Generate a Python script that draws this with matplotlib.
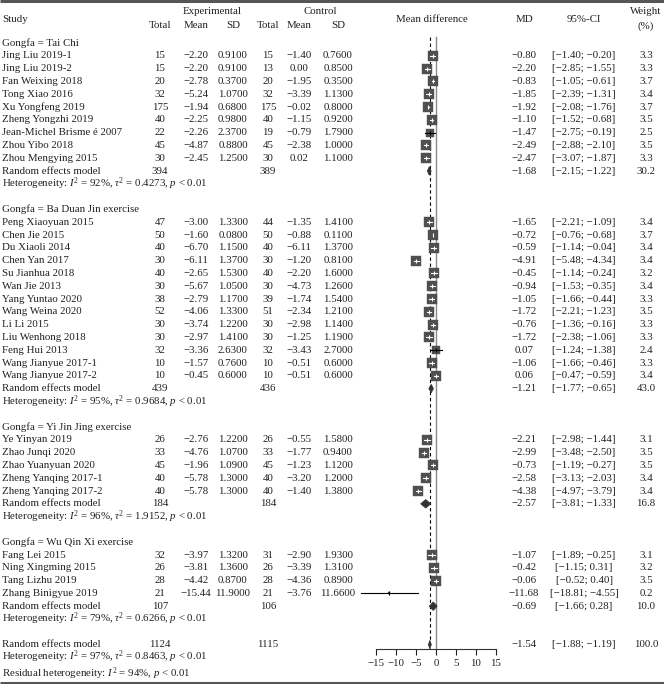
import matplotlib
matplotlib.use('Agg')
import matplotlib.pyplot as plt
import numpy as np

plt.rcParams['font.family'] = ['Liberation Serif', 'DejaVu Serif']
plt.rcParams['mathtext.fontset'] = 'custom'
plt.rcParams['mathtext.rm'] = 'Liberation Serif'
plt.rcParams['mathtext.it'] = 'Liberation Serif:italic'
plt.rcParams['axes.unicode_minus'] = True

# ---------------- data ----------------
group_labels = ["Gongfa = Tai Chi", "Gongfa = Ba Duan Jin exercise",
                "Gongfa = Yi Jin Jing exercise", "Gongfa = Wu Qin Xi exercise"]
group_sizes = [9, 13, 5, 4]

study_names = [
    "Jing Liu 2019-1", "Jing Liu 2019-2", "Fan Weixing 2018", "Tong Xiao 2016",
    "Xu Yongfeng 2019", "Zheng Yongzhi 2019", "Jean-Michel Brisme é 2007",
    "Zhou Yibo 2018", "Zhou Mengying 2015",
    "Peng Xiaoyuan 2015", "Chen Jie 2015", "Du Xiaoli 2014", "Chen Yan 2017",
    "Su Jianhua 2018", "Wan Jie 2013", "Yang Yuntao 2020", "Wang Weina 2020",
    "Li Li 2015", "Liu Wenhong 2018", "Feng Hui 2013", "Wang Jianyue 2017-1",
    "Wang Jianyue 2017-2",
    "Ye Yinyan 2019", "Zhao Junqi 2020", "Zhao Yuanyuan 2020",
    "Zheng Yanqing 2017-1", "Zheng Yanqing 2017-2",
    "Fang Lei 2015", "Ning Xingming 2015", "Tang Lizhu 2019", "Zhang Binigyue 2019",
]
exp_total = [15, 15, 20, 32, 175, 40, 22, 45, 30,
             47, 50, 40, 30, 40, 30, 38, 52, 30, 30, 32, 10, 10,
             26, 33, 45, 40, 40,
             32, 26, 28, 21]
exp_mean = [-2.20, -2.20, -2.78, -5.24, -1.94, -2.25, -2.26, -4.87, -2.45,
            -3.00, -1.60, -6.70, -6.11, -2.65, -5.67, -2.79, -4.06, -3.74, -2.97, -3.36, -1.57, -0.45,
            -2.76, -4.76, -1.96, -5.78, -5.78,
            -3.97, -3.81, -4.42, -15.44]
exp_sd = [0.91, 0.91, 0.37, 1.07, 0.68, 0.98, 2.37, 0.88, 1.25,
          1.33, 0.08, 1.15, 1.37, 1.53, 1.05, 1.17, 1.33, 1.22, 1.41, 2.63, 0.76, 0.60,
          1.22, 1.07, 1.09, 1.30, 1.30,
          1.32, 1.36, 0.87, 11.90]
ctl_total = [15, 13, 20, 32, 175, 40, 19, 45, 30,
             44, 50, 40, 30, 40, 30, 39, 51, 30, 30, 32, 10, 10,
             26, 33, 45, 40, 40,
             31, 26, 28, 21]
ctl_mean = [-1.40, 0.00, -1.95, -3.39, -0.02, -1.15, -0.79, -2.38, 0.02,
            -1.35, -0.88, -6.11, -1.20, -2.20, -4.73, -1.74, -2.34, -2.98, -1.25, -3.43, -0.51, -0.51,
            -0.55, -1.77, -1.23, -3.20, -1.40,
            -2.90, -3.39, -4.36, -3.76]
ctl_sd = [0.76, 0.85, 0.35, 1.13, 0.80, 0.92, 1.79, 1.00, 1.10,
          1.41, 0.11, 1.37, 0.81, 1.60, 1.26, 1.54, 1.21, 1.14, 1.19, 2.70, 0.60, 0.60,
          1.58, 0.94, 1.12, 1.20, 1.38,
          1.93, 1.31, 0.89, 11.66]
md = [-0.80, -2.20, -0.83, -1.85, -1.92, -1.10, -1.47, -2.49, -2.47,
      -1.65, -0.72, -0.59, -4.91, -0.45, -0.94, -1.05, -1.72, -0.76, -1.72, 0.07, -1.06, 0.06,
      -2.21, -2.99, -0.73, -2.58, -4.38,
      -1.07, -0.42, -0.06, -11.68]
# CI limits as drawn in the plot
ci_lo = [-1.40, -2.85, -1.05, -2.39, -2.08, -1.52, -2.75, -2.88, -3.07,
         -2.21, -0.76, -1.14, -5.48, -1.14, -1.53, -1.66, -2.21, -1.36, -2.38, -1.24, -1.66, -0.47,
         -2.98, -3.48, -1.19, -3.13, -4.97,
         -1.89, -1.15, -0.52, -18.81]
ci_hi = [-0.20, -1.55, -0.61, -1.31, -1.76, -0.68, -0.19, -2.10, -1.87,
         -1.09, -0.68, -0.04, -4.34, 0.24, -0.35, -0.44, -1.23, -0.16, -1.06, 1.38, -0.46, 0.59,
         -1.44, -2.50, -0.27, -2.03, -3.79,
         -0.25, 0.31, 0.40, -4.55]
# CI text as printed in the table
ci_text = ["[−1.40; −0.20]", "[−2.85; −1.55]", "[−1.05; −0.61]", "[−2.39; −1.31]",
           "[−2.08; −1.76]", "[−1.52; −0.68]", "[−2.75; −0.19]", "[−2.88; −2.10]",
           "[−3.07; −1.87]",
           "[−2.21; −1.09]", "[−0.76; −0.68]", "[−1.14; −0.04]", "[−5.48; −4.34]",
           "[−1.14; −0.24]", "[−1.53; −0.35]", "[−1.66; −0.44]", "[−2.21; −1.23]",
           "[−1.36; −0.16]", "[−2.38; −1.06]", "[−1.24; −1.38]", "[−1.66; −0.46]",
           "[−0.47; −0.59]",
           "[−2.98; −1.44]", "[−3.48; −2.50]", "[−1.19; −0.27]", "[−3.13; −2.03]",
           "[−4.97; −3.79]",
           "[−1.89; −0.25]", "[−1.15; 0.31]", "[−0.52; 0.40]", "[−18.81; −4.55]"]
weight = [3.3, 3.3, 3.7, 3.4, 3.7, 3.5, 2.5, 3.5, 3.3,
          3.4, 3.7, 3.4, 3.4, 3.2, 3.4, 3.3, 3.5, 3.3, 3.3, 2.4, 3.3, 3.4,
          3.1, 3.5, 3.5, 3.4, 3.4,
          3.1, 3.2, 3.5, 0.2]

sub_exp_total = [394, 439, 184, 107]
sub_ctl_total = [389, 436, 184, 106]
sub_md = [-1.68, -1.21, -2.57, -0.69]
sub_lo = [-2.15, -1.77, -3.81, -1.66]
sub_hi = [-1.22, -0.65, -1.33, 0.28]
sub_weight = [30.2, 43.0, 16.8, 10.0]
sub_i2 = [92, 95, 96, 79]
sub_tau2 = ["0.4273", "0.9684", "1.9152", "0.6266"]

all_exp_total = 1124
all_ctl_total = 1115
all_md = -1.54
all_lo = -1.88
all_hi = -1.19
all_weight = 100.0
all_i2 = 97
all_tau2 = "0.8463"
resid_i2 = 94

x_ticks = [-15, -10, -5, 0, 5, 10, 15]

# ---------------- layout ----------------
W, H = 664, 684
FS = 7.8
TXT = '#231f20'
SQ = '#4f4f4f'
DIA = '#333333'
Y0, PITCH = 43.0, 12.8
AX_Y = 649
X_COLS = dict(exp_total=160, exp_mean=196, exp_sd=233, ctl_total=268,
              ctl_mean=299, ctl_sd=338, md=524, ci=584, weight=646)


def row_y(r):
    return Y0 + r * PITCH


def f(v, d=2):
    return f"{v:.{d}f}".replace('-', '\u2212')


def ci_fmt(lo, hi):
    return f"[{f(lo)}; {f(hi)}]"


fig = plt.figure(figsize=(W / 100, H / 100), dpi=100)
ax = fig.add_axes([0, 0, 1, 1])
ax.set_xlim(0, W)
ax.set_ylim(H, 0)
ax.axis('off')

fx = fig.add_axes([376 / W, 0, 120 / W, 1])
fx.set_xlim(-15, 15)
fx.set_ylim(H, 0)
fx.patch.set_alpha(0)
for s in ['top', 'left', 'right']:
    fx.spines[s].set_visible(False)
fx.spines['bottom'].set_position(('data', AX_Y))
fx.spines['bottom'].set_bounds(-15, 15)
fx.spines['bottom'].set_linewidth(0.8)
fx.spines['bottom'].set_color('#333333')
fx.set_yticks([])
fx.set_xticks(x_ticks)
fx.tick_params(axis='x', direction='out', length=4, width=0.8, labelsize=FS,
               pad=3.5, colors=TXT)


def put(x, y, s, ha='center', **kw):
    ax.text(x, y, s, ha=ha, va='center', fontsize=FS, color=TXT, **kw)


# header
ax.plot([0, W], [1.2, 1.2], color='#555555', lw=2.2, solid_capstyle='butt')
ax.plot([0, W], [682.5, 682.5], color='#555555', lw=2.2, solid_capstyle='butt')
put(2, 20, "Study", ha='left')
put(212, 12, "Experimental")
put(320, 12, "Control")
for key, lab in [('exp_total', 'Total'), ('exp_mean', 'Mean'), ('exp_sd', 'SD'),
                 ('ctl_total', 'Total'), ('ctl_mean', 'Mean'), ('ctl_sd', 'SD')]:
    put(X_COLS[key], 26, lab)
put(432, 19, "Mean difference")
put(X_COLS['md'], 19, "MD")
put(X_COLS['ci'], 19, "95%-CI")
put(X_COLS['weight'], 12, "Weight")
put(X_COLS['weight'], 26, "(%)")


def diamond(y, m, lo, hi, h=4.2):
    fx.fill([lo, m, hi, m], [y, y - h, y, y + h], color=DIA, lw=0.6,
            edgecolor=DIA, clip_on=False, zorder=5)


PX_PER_UNIT = 120 / 30.0
r = 0
i = 0
for g, lab in enumerate(group_labels):
    put(2, row_y(r), lab, ha='left')
    r += 1
    for _ in range(group_sizes[g]):
        y = row_y(r)
        put(2, y, study_names[i], ha='left')
        put(X_COLS['exp_total'], y, str(exp_total[i]))
        put(X_COLS['exp_mean'], y, f(exp_mean[i]))
        put(X_COLS['exp_sd'], y, f(exp_sd[i], 4))
        put(X_COLS['ctl_total'], y, str(ctl_total[i]))
        put(X_COLS['ctl_mean'], y, f(ctl_mean[i]))
        put(X_COLS['ctl_sd'], y, f(ctl_sd[i], 4))
        put(X_COLS['md'], y, f(md[i]))
        put(X_COLS['ci'], y, ci_text[i])
        put(X_COLS['weight'], y, f"{weight[i]:.1f}")
        # square
        side_px = 10.0 * np.sqrt(weight[i] / 3.4)
        fx.plot([md[i]], [y], marker='s', ms=side_px * 0.72, color=SQ,
                mec=SQ, mew=0.3, clip_on=False, zorder=3)
        half_units = side_px / 2 / PX_PER_UNIT
        wide = (md[i] - ci_lo[i] > half_units) or (ci_hi[i] - md[i] > half_units)
        col = 'black' if wide else 'white'
        fx.plot([ci_lo[i], ci_hi[i]], [y, y], color=col, lw=0.8,
                clip_on=False, zorder=4)
        fx.plot([md[i]], [y], marker='|', ms=3, color=col, mew=0.8,
                clip_on=False, zorder=4)
        r += 1
        i += 1
    y = row_y(r)
    put(2, y, "Random effects model", ha='left')
    put(X_COLS['exp_total'], y, str(sub_exp_total[g]))
    put(X_COLS['ctl_total'], y, str(sub_ctl_total[g]))
    put(X_COLS['md'], y, f(sub_md[g]))
    put(X_COLS['ci'], y, ci_fmt(sub_lo[g], sub_hi[g]))
    put(X_COLS['weight'], y, f"{sub_weight[g]:.1f}")
    diamond(y, sub_md[g], sub_lo[g], sub_hi[g])
    r += 1
    put(2, row_y(r),
        f"Heterogeneity: $I^2$ = {sub_i2[g]}%, $\\tau^2$ = {sub_tau2[g]}, $p$ < 0.01",
        ha='left')
    r += 2

y = row_y(r)
put(2, y, "Random effects model", ha='left')
put(X_COLS['exp_total'], y, str(all_exp_total))
put(X_COLS['ctl_total'], y, str(all_ctl_total))
put(X_COLS['md'], y, f(all_md))
put(X_COLS['ci'], y, ci_fmt(all_lo, all_hi))
put(X_COLS['weight'], y, f"{all_weight:.1f}")
diamond(y, all_md, all_lo, all_hi)
r += 1
put(2, row_y(r) - 0.5,
    f"Heterogeneity: $I^2$ = {all_i2}%, $\\tau^2$ = {all_tau2}, $p$ < 0.01", ha='left')
r += 1
put(2, row_y(r) + 3,
    f"Residual heterogeneity: $I^2$ = {resid_i2}%, $p$ < 0.01", ha='left')

# reference lines
fx.plot([0, 0], [37, AX_Y], color='#8a8a8a', lw=1.0, clip_on=False, zorder=1)
fx.plot([all_md, all_md], [37, AX_Y], color='black', lw=0.8, ls=(0, (3, 2.5)),
        clip_on=False, zorder=1)

fig.savefig('out.png', dpi=100)
